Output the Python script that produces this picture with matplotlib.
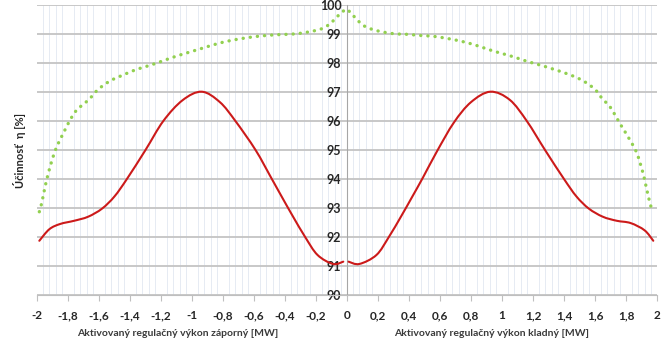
import matplotlib
matplotlib.use("Agg")
import matplotlib.pyplot as plt
from matplotlib.path import Path
from matplotlib.patches import PathPatch
import numpy as np

# ---- data ----
red_neg_x = [-1.985, -1.92, -1.85, -1.76, -1.67, -1.58, -1.50, -1.42, -1.30, -1.185, -1.06,
             -0.937, -0.82, -0.72, -0.59, -0.49, -0.42, -0.35, -0.27, -0.19, -0.09, -0.024]
red_neg_y = [91.87, 92.27, 92.45, 92.56, 92.70, 92.98, 93.40, 94.00, 95.00, 96.00, 96.72,
             97.01, 96.65, 96.00, 95.00, 94.05, 93.38, 92.72, 92.00, 91.38, 91.07, 91.15]

red_pos_x = [0.01, 0.08, 0.19, 0.27, 0.35, 0.42, 0.49, 0.58, 0.69, 0.80, 0.925, 1.05, 1.16,
             1.28, 1.40, 1.48, 1.56, 1.65, 1.74, 1.83, 1.92, 1.976]
red_pos_y = [91.15, 91.07, 91.38, 92.00, 92.72, 93.38, 94.05, 94.95, 95.95, 96.65, 97.01,
             96.73, 96.00, 94.98, 94.00, 93.40, 92.98, 92.70, 92.56, 92.48, 92.23, 91.87]

green_x = [-1.985, -1.97, -1.948, -1.927, -1.90, -1.873, -1.83, -1.787, -1.744, -1.70, -1.658,
           -1.605, -1.529, -1.443, -1.357, -1.271, -1.185, -1.099, -1.013, -0.927, -0.84,
           -0.755, -0.647, -0.54, -0.432, -0.346, -0.26, -0.174, -0.12, -0.077, -0.034, 0.0,
           0.015, 0.062, 0.095, 0.127, 0.17, 0.213, 0.30, 0.385, 0.471, 0.557, 0.643, 0.729,
           0.815, 0.90, 0.965, 1.07, 1.16, 1.245, 1.33, 1.44, 1.525, 1.60, 1.65, 1.697, 1.76,
           1.826, 1.87, 1.91, 1.93, 1.955, 1.972]
green_y = [92.87, 93.16, 93.73, 94.20, 94.70, 95.11, 95.58, 96.03, 96.38, 96.58, 96.78,
           97.09, 97.38, 97.59, 97.78, 97.92, 98.08, 98.24, 98.38, 98.52, 98.66,
           98.77, 98.87, 98.94, 98.98, 99.00, 99.06, 99.16, 99.31, 99.52, 99.75, 99.85,
           99.78, 99.51, 99.34, 99.23, 99.15, 99.09, 99.01, 98.99, 98.95, 98.92, 98.85, 98.76,
           98.64, 98.49, 98.38, 98.22, 98.06, 97.93, 97.79, 97.59, 97.38, 97.09, 96.75, 96.49, 95.92,
           95.34, 94.89, 94.20, 93.73, 93.16, 92.87]

xtick_vals = [-2, -1.8, -1.6, -1.4, -1.2, -1, -0.8, -0.6, -0.4, -0.2, 0,
              0.2, 0.4, 0.6, 0.8, 1, 1.2, 1.4, 1.6, 1.8, 2]
xtick_labels = ["-2", "-1,8", "-1,6", "-1,4", "-1,2", "-1", "-0,8", "-0,6", "-0,4", "-0,2", "0",
                "0,2", "0,4", "0,6", "0,8", "1", "1,2", "1,4", "1,6", "1,8", "2"]
ytick_vals = [90, 91, 92, 93, 94, 95, 96, 97, 98, 99, 100]
ytick_labels = ["90", "91", "92", "93", "94", "95", "96", "97", "98", "99", "100"]

xlabel_neg = "Aktivovaný regulačný výkon záporný [MW]"
xlabel_pos = "Aktivovaný regulačný výkon kladný [MW]"
ylabel = "Účinnosť  η [%]"


def smooth_path(xs, ys):
    """Smoothed line (like a spreadsheet 'smoothed line') as cubic Bezier segments."""
    P = np.column_stack([xs, ys]).astype(float)
    n = len(P)
    verts = [P[0]]
    codes = [Path.MOVETO]
    for i in range(n - 1):
        p0 = P[i - 1] if i > 0 else P[i]
        p1, p2 = P[i], P[i + 1]
        p3 = P[i + 2] if i + 2 < n else P[i + 1]
        c1 = p1 + (p2 - p0) / 6.0
        c2 = p2 - (p3 - p1) / 6.0
        verts += [c1, c2, p2]
        codes += [Path.CURVE4] * 3
    return Path(verts, codes)


plt.rcParams['font.family'] = ['Lato', 'DejaVu Sans']

fig = plt.figure(figsize=(6.67, 3.42), dpi=100)
ax = fig.add_axes([37/667, 1-295/342, 620/667, 290/342])
ax.set_xlim(-2, 2)
ax.set_ylim(90, 100)

# grid
ax.set_xticks(np.arange(-2, 2.0001, 0.04), minor=True)
ax.grid(which='minor', axis='x', color='#e6ebf3', linewidth=0.7, zorder=0)
ax.set_yticks(ytick_vals)
ax.grid(which='major', axis='y', color='#c4c4c4', linewidth=1.3, zorder=0)
ax.tick_params(which='minor', length=0)

# data
for xs, ys in [(red_neg_x, red_neg_y), (red_pos_x, red_pos_y)]:
    ax.add_patch(PathPatch(smooth_path(xs, ys), fill=False, edgecolor='#cc1a1a',
                           linewidth=1.5, capstyle='round', zorder=3,
                           transform=ax.transData))
ax.add_patch(PathPatch(smooth_path(green_x, green_y), fill=False, edgecolor='#92d050',
                       linewidth=2.4, linestyle=(0, (0.05, 2.1)), capstyle='round',
                       zorder=3, transform=ax.transData))

# spines
for s in ['top', 'right']:
    ax.spines[s].set_visible(False)
ax.spines['left'].set_position(('data', 0))
ax.spines['left'].set_color('#a6a6a6')
ax.spines['left'].set_zorder(2)
ax.spines['bottom'].set_color('#bfbfbf')

ax.set_xticks(xtick_vals)
ax.set_xticklabels(xtick_labels)
ax.set_yticklabels(ytick_labels)
ax.tick_params(axis='x', which='major', length=4, color='#bfbfbf', pad=7,
               labelsize=8.5, labelcolor='#262626')
ax.tick_params(axis='y', which='major', length=0, pad=4,
               labelsize=9, labelcolor='#262626')
for lab in ax.get_xticklabels() + ax.get_yticklabels():
    lab.set_fontweight('bold')

fig.text(37/667 + (-1.09 + 2) / 4 * 620/667, 1 - 333/342, xlabel_neg, ha='center', va='center',
         fontsize=7.5, fontweight='bold', color='#3a3a3a')
fig.text(37/667 + (0.93 + 2) / 4 * 620/667, 1 - 333/342, xlabel_pos, ha='center', va='center',
         fontsize=7.5, fontweight='bold', color='#3a3a3a')
fig.text(20/667, 1 - 150/342, ylabel, ha='center', va='center', rotation=90,
         fontsize=8, fontweight='bold', color='#262626')

fig.savefig('out.png', dpi=100)
